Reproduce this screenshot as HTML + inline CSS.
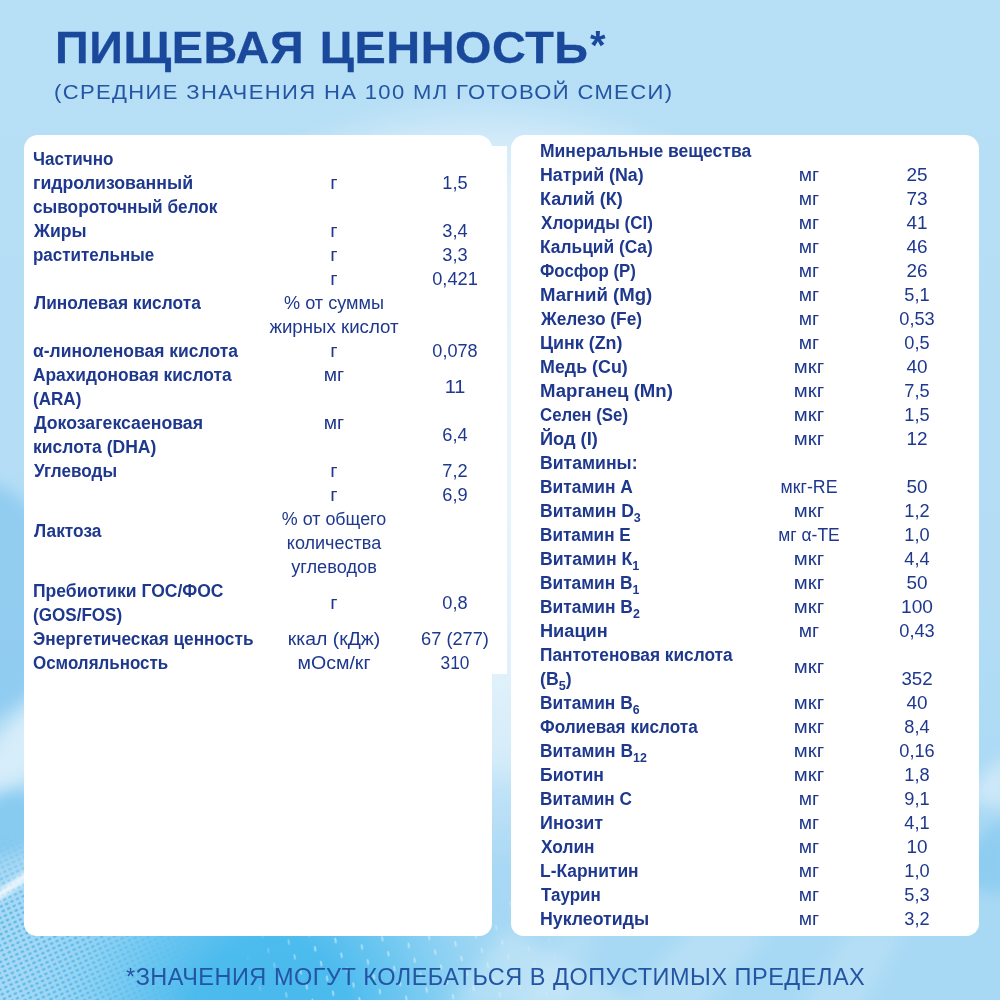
<!DOCTYPE html>
<html lang="ru"><head><meta charset="utf-8"><title>Пищевая ценность</title>
<style>
html,body{margin:0;padding:0}
body{width:1000px;height:1000px;position:relative;overflow:hidden;background:#b7dff6;font-family:"Liberation Sans",sans-serif;color:#1e388e}
#bg{position:absolute;left:0;top:0;width:1000px;height:1000px}
.panel{position:absolute;background:#fff;border-radius:14px 14px 12.5px 12.5px}
#pl{left:24.4px;top:134.8px;width:467.8px;height:801.4px}
#pr{left:511.1px;top:134.8px;width:467.7px;height:801.4px}
#strip{position:absolute;left:480px;top:146px;width:26.9px;height:527.9px;background:#fff}
.t{position:absolute;white-space:nowrap;font-size:17.5px;line-height:24px;height:24px}
.b{font-weight:bold;transform-origin:0 50%}
.c{transform-origin:50% 50%;transform:translateX(-50%) scaleX(1.0400)}
sub{font-size:12.5px;vertical-align:baseline;position:relative;top:5px;line-height:0}
#h1{-webkit-text-stroke:0.3px #1a499c;position:absolute;left:54.6px;top:23.4px;font-size:44.5px;line-height:50px;font-weight:bold;color:#1a499c;white-space:nowrap;transform-origin:0 50%;letter-spacing:0.5px;word-spacing:2px}
#ast{position:absolute;left:590px;top:20px;font-size:40px;line-height:50px;font-weight:bold;color:#1a499c}
#h2{position:absolute;left:54.4px;top:80px;font-size:19.5px;line-height:24px;color:#2455a4;white-space:nowrap;transform-origin:0 50%;letter-spacing:1.2px}
#ft{position:absolute;left:125.5px;top:962px;font-size:23.25px;line-height:30px;color:#2455a4;white-space:nowrap;transform-origin:0 50%;letter-spacing:0.5px}

</style></head>
<body>
<svg id="bg" width="1000" height="1000" viewBox="0 0 1000 1000">
<defs>
<linearGradient id="gv" x1="0" y1="0" x2="0" y2="1">
<stop offset="0" stop-color="#b7dff6"/><stop offset="0.6" stop-color="#b4ddf5"/><stop offset="0.85" stop-color="#a8d8f4"/><stop offset="1" stop-color="#a8d9f4"/>
</linearGradient>
<radialGradient id="gglow" cx="0.5" cy="0.5" r="0.5">
<stop offset="0" stop-color="#fff" stop-opacity="0.7"/><stop offset="0.7" stop-color="#fff" stop-opacity="0.6"/><stop offset="0.85" stop-color="#fff" stop-opacity="0.4"/><stop offset="0.95" stop-color="#fff" stop-opacity="0.12"/><stop offset="1" stop-color="#fff" stop-opacity="0"/>
</radialGradient>
<radialGradient id="gbl" cx="0.5" cy="0.5" r="0.5">
<stop offset="0" stop-color="#48b9ed" stop-opacity="1"/><stop offset="0.3" stop-color="#4cbbee" stop-opacity="1"/><stop offset="0.5" stop-color="#58c0ef" stop-opacity="0.75"/><stop offset="0.75" stop-color="#6ac8f1" stop-opacity="0.3"/><stop offset="1" stop-color="#84d1f3" stop-opacity="0"/>
</radialGradient>
<filter id="bl8" x="-30%" y="-30%" width="160%" height="160%"><feGaussianBlur stdDeviation="8"/></filter>
<filter id="bl3" x="-20%" y="-20%" width="140%" height="140%"><feGaussianBlur stdDeviation="2.5"/></filter>
<pattern id="dots" width="22" height="16" patternUnits="userSpaceOnUse" patternTransform="rotate(-22)">
<rect x="3" y="3" width="2" height="5.5" rx="1" fill="#fff" fill-opacity="0.5" transform="skewX(-12)"/>
</pattern>
<pattern id="ddots" width="6" height="5" patternUnits="userSpaceOnUse" patternTransform="rotate(-25)">
<ellipse cx="2" cy="2" rx="1.9" ry="1.2" fill="#4bb4e9" fill-opacity="0.85"/>
</pattern>
<linearGradient id="gdots" x1="0" y1="0" x2="1" y2="0">
<stop offset="0.24" stop-color="#fff" stop-opacity="0"/><stop offset="0.31" stop-color="#fff" stop-opacity="1"/><stop offset="0.46" stop-color="#fff" stop-opacity="0.8"/><stop offset="0.58" stop-color="#fff" stop-opacity="0"/>
</linearGradient>
<linearGradient id="gddots" x1="0" y1="0" x2="1" y2="0">
<stop offset="0" stop-color="#fff" stop-opacity="1"/><stop offset="0.08" stop-color="#fff" stop-opacity="0.9"/><stop offset="0.2" stop-color="#fff" stop-opacity="0"/>
</linearGradient>
<linearGradient id="gfade" x1="0" y1="0" x2="0" y2="1">
<stop offset="0" stop-color="#000"/><stop offset="0.35" stop-color="#fff"/>
</linearGradient>
<linearGradient id="gvf" x1="0" y1="0" x2="0" y2="1"><stop offset="0.25" stop-color="#000"/><stop offset="0.6" stop-color="#fff"/></linearGradient>
<mask id="mv"><rect x="0" y="780" width="1000" height="220" fill="url(#gvf)"/></mask>
<linearGradient id="gstrip" x1="0" y1="0" x2="0" y2="1"><stop offset="0" stop-color="#fff" stop-opacity="0"/><stop offset="0.4" stop-color="#fff" stop-opacity="0.34"/><stop offset="1" stop-color="#fff" stop-opacity="0"/></linearGradient>
<mask id="mdots"><rect x="0" y="900" width="1000" height="100" fill="url(#gdots)"/></mask>
<mask id="mddots"><rect x="0" y="780" width="1000" height="220" fill="url(#gddots)"/></mask>
</defs>
<rect width="1000" height="1000" fill="url(#gv)"/>
<ellipse cx="485" cy="440" rx="400" ry="350" fill="url(#gglow)"/>
<rect x="486" y="690" width="30" height="180" fill="url(#gstrip)"/>
<ellipse cx="270" cy="1030" rx="270" ry="300" fill="url(#gbl)"/>
<ellipse cx="-30" cy="600" rx="95" ry="120" fill="#74c0ed" fill-opacity="0.55" filter="url(#bl8)"/>
<ellipse cx="-15" cy="822" rx="60" ry="38" fill="#6cc0ed" fill-opacity="0.55" filter="url(#bl8)"/>
<rect x="0" y="900" width="1000" height="100" fill="url(#dots)" mask="url(#mdots)"/>
<g mask="url(#mv)"><rect x="0" y="780" width="1000" height="220" fill="url(#ddots)" mask="url(#mddots)"/></g>
<g filter="url(#bl3)" fill="#fff">
<path d="M-10 897 C10 882 25 870 60 854 L60 864 C30 878 12 890 -10 907Z" fill-opacity="0.8"/>
</g>
<g filter="url(#bl8)">
<path d="M-20 760 C0 735 15 715 45 695 L45 770 C25 780 8 790 -20 805Z" fill="#fff" fill-opacity="0.5"/>
<path d="M450 1010 C475 965 490 948 508 930 C540 950 590 968 640 1010Z" fill="#fff" fill-opacity="0.22"/>
<path d="M690 930 L770 930 L700 1010 L620 1010Z" fill="#fff" fill-opacity="0.16"/>
<path d="M850 930 L905 930 L860 1010 L800 1010Z" fill="#fff" fill-opacity="0.14"/>
<path d="M560 930 L600 930 L560 1010 L520 1010Z" fill="#fff" fill-opacity="0.1"/>
<path d="M1010 815 C985 828 965 850 945 885 L1010 895Z" fill="#6fbfec" fill-opacity="0.45"/>
<path d="M1010 755 C990 765 978 778 968 800 L1010 810Z" fill="#fff" fill-opacity="0.4"/>
</g>
</svg>
<div class="panel" id="pl"></div><div id="strip"></div><div class="panel" id="pr"></div>
<div id="ll0" class="t b" style="left:33.00px;top:147.30px;transform:scaleX(0.9759)">Частично</div>
<div id="ll1" class="t b" style="left:33.00px;top:171.30px;transform:scaleX(1.0126)">гидролизованный</div>
<div id="ll2" class="t b" style="left:33.00px;top:195.30px;transform:scaleX(0.9833)">сывороточный белок</div>
<div id="ll3" class="t b" style="left:34.00px;top:219.30px;transform:scaleX(1.0065)">Жиры</div>
<div id="ll4" class="t b" style="left:33.00px;top:243.30px;transform:scaleX(0.9695)">растительные</div>
<div id="ll5" class="t b" style="left:34.00px;top:291.30px;transform:scaleX(0.9899)">Линолевая кислота</div>
<div id="ll6" class="t b" style="left:33.00px;top:339.30px;transform:scaleX(0.9989)">α-линоленовая кислота</div>
<div id="ll7" class="t b" style="left:33.00px;top:363.30px;transform:scaleX(0.9894)">Арахидоновая кислота</div>
<div id="ll8" class="t b" style="left:33.00px;top:387.30px;transform:scaleX(0.9756)">(ARA)</div>
<div id="ll9" class="t b" style="left:34.00px;top:411.30px;transform:scaleX(1.0103)">Докозагексаеновая</div>
<div id="ll10" class="t b" style="left:33.00px;top:435.30px;transform:scaleX(1.0012)">кислота (DHA)</div>
<div id="ll11" class="t b" style="left:34.00px;top:459.30px;transform:scaleX(0.9798)">Углеводы</div>
<div id="ll12" class="t b" style="left:34.00px;top:519.30px;transform:scaleX(0.9888)">Лактоза</div>
<div id="ll13" class="t b" style="left:33.00px;top:579.30px;transform:scaleX(1.0012)">Пребиотики ГОС/ФОС</div>
<div id="ll14" class="t b" style="left:33.00px;top:603.30px;transform:scaleX(0.9757)">(GOS/FOS)</div>
<div id="ll15" class="t b" style="left:33.00px;top:627.30px;transform:scaleX(0.9858)">Энергетическая ценность</div>
<div id="ll16" class="t b" style="left:33.00px;top:651.30px;transform:scaleX(0.9689)">Осмоляльность</div>
<div id="lu0" class="t c" style="left:334.00px;top:171.30px;transform:translateX(-50%) scaleX(1.1400)">г</div>
<div id="lu1" class="t c" style="left:334.00px;top:219.30px;transform:translateX(-50%) scaleX(1.1400)">г</div>
<div id="lu2" class="t c" style="left:334.00px;top:243.30px;transform:translateX(-50%) scaleX(1.1400)">г</div>
<div id="lu3" class="t c" style="left:334.00px;top:267.30px;transform:translateX(-50%) scaleX(1.1400)">г</div>
<div id="lu4" class="t c" style="left:334.00px;top:291.30px;transform:translateX(-50%) scaleX(1.0347)">% от суммы</div>
<div id="lu5" class="t c" style="left:334.00px;top:315.30px;transform:translateX(-50%) scaleX(1.0670)">жирных кислот</div>
<div id="lu6" class="t c" style="left:334.00px;top:339.30px;transform:translateX(-50%) scaleX(1.1400)">г</div>
<div id="lu7" class="t c" style="left:334.00px;top:363.30px;transform:translateX(-50%) scaleX(1.1063)">мг</div>
<div id="lu8" class="t c" style="left:334.00px;top:411.30px;transform:translateX(-50%) scaleX(1.1063)">мг</div>
<div id="lu9" class="t c" style="left:334.00px;top:459.30px;transform:translateX(-50%) scaleX(1.1400)">г</div>
<div id="lu10" class="t c" style="left:334.00px;top:483.30px;transform:translateX(-50%) scaleX(1.1400)">г</div>
<div id="lu11" class="t c" style="left:334.00px;top:507.30px;transform:translateX(-50%) scaleX(1.0226)">% от общего</div>
<div id="lu12" class="t c" style="left:334.00px;top:531.30px;transform:translateX(-50%) scaleX(1.0290)">количества</div>
<div id="lu13" class="t c" style="left:334.00px;top:555.30px;transform:translateX(-50%) scaleX(1.0400)">углеводов</div>
<div id="lu14" class="t c" style="left:334.00px;top:591.30px;transform:translateX(-50%) scaleX(1.1400)">г</div>
<div id="lu15" class="t c" style="left:334.00px;top:627.30px;transform:translateX(-50%) scaleX(1.1089)">ккал (кДж)</div>
<div id="lu16" class="t c" style="left:334.00px;top:651.30px;transform:translateX(-50%) scaleX(1.1185)">мОсм/кг</div>
<div id="lv0" class="t c" style="left:455.20px;top:171.30px;transform:translateX(-50%) scaleX(1.0401)">1,5</div>
<div id="lv1" class="t c" style="left:455.20px;top:219.30px">3,4</div>
<div id="lv2" class="t c" style="left:455.20px;top:243.30px">3,3</div>
<div id="lv3" class="t c" style="left:455.20px;top:267.30px;transform:translateX(-50%) scaleX(1.0400)">0,421</div>
<div id="lv4" class="t c" style="left:455.20px;top:339.30px;transform:translateX(-50%) scaleX(1.0341)">0,078</div>
<div id="lv5" class="t c" style="left:455.20px;top:375.30px;transform:translateX(-50%) scaleX(1.1400)">11</div>
<div id="lv6" class="t c" style="left:455.20px;top:423.30px">6,4</div>
<div id="lv7" class="t c" style="left:455.20px;top:459.30px">7,2</div>
<div id="lv8" class="t c" style="left:455.20px;top:483.30px">6,9</div>
<div id="lv9" class="t c" style="left:455.20px;top:591.30px">0,8</div>
<div id="lv10" class="t c" style="left:455.20px;top:627.30px;transform:translateX(-50%) scaleX(1.0416)">67 (277)</div>
<div id="lv11" class="t c" style="left:455.20px;top:651.30px;transform:translateX(-50%) scaleX(0.9862)">310</div>
<div id="rl0" class="t b" style="left:540.00px;top:139.30px;transform:scaleX(1.0002)">Минеральные вещества</div>
<div id="rl1" class="t b" style="left:540.00px;top:163.30px;transform:scaleX(1.0157)">Натрий (Na)</div>
<div id="rl2" class="t b" style="left:540.00px;top:187.30px;transform:scaleX(1.0289)">Калий (К)</div>
<div id="rl3" class="t b" style="left:541.00px;top:211.30px;transform:scaleX(0.9756)">Хлориды (Cl)</div>
<div id="rl4" class="t b" style="left:540.00px;top:235.30px;transform:scaleX(0.9924)">Кальций (Ca)</div>
<div id="rl5" class="t b" style="left:540.00px;top:259.30px;transform:scaleX(0.9616)">Фосфор (P)</div>
<div id="rl6" class="t b" style="left:540.00px;top:283.30px;transform:scaleX(1.0622)">Магний (Mg)</div>
<div id="rl7" class="t b" style="left:541.00px;top:307.30px;transform:scaleX(0.9899)">Железо (Fe)</div>
<div id="rl8" class="t b" style="left:540.00px;top:331.30px;transform:scaleX(1.0209)">Цинк (Zn)</div>
<div id="rl9" class="t b" style="left:540.00px;top:355.30px;transform:scaleX(1.0206)">Медь (Cu)</div>
<div id="rl10" class="t b" style="left:540.00px;top:379.30px;transform:scaleX(1.0626)">Марганец (Mn)</div>
<div id="rl11" class="t b" style="left:540.00px;top:403.30px;transform:scaleX(0.9619)">Селен (Se)</div>
<div id="rl12" class="t b" style="left:540.00px;top:427.30px;transform:scaleX(1.0411)">Йод (I)</div>
<div id="rl13" class="t b" style="left:540.00px;top:451.30px;transform:scaleX(1.0078)">Витамины:</div>
<div id="rl14" class="t b" style="left:540.00px;top:475.30px;transform:scaleX(0.9936)">Витамин А</div>
<div id="rl15" class="t b" style="left:540.00px;top:499.30px;transform:scaleX(1.0040)">Витамин D<sub>3</sub></div>
<div id="rl16" class="t b" style="left:540.00px;top:523.30px;transform:scaleX(0.9806)">Витамин Е</div>
<div id="rl17" class="t b" style="left:540.00px;top:547.30px;transform:scaleX(1.0077)">Витамин К<sub>1</sub></div>
<div id="rl18" class="t b" style="left:540.00px;top:571.30px;transform:scaleX(0.9890)">Витамин B<sub>1</sub></div>
<div id="rl19" class="t b" style="left:540.00px;top:595.30px;transform:scaleX(0.9940)">Витамин B<sub>2</sub></div>
<div id="rl20" class="t b" style="left:540.00px;top:619.30px;transform:scaleX(1.0383)">Ниацин</div>
<div id="rl21" class="t b" style="left:540.00px;top:643.30px;transform:scaleX(0.9873)">Пантотеновая кислота</div>
<div id="rl22" class="t b" style="left:540.00px;top:667.30px;transform:scaleX(1.0089)">(B<sub>5</sub>)</div>
<div id="rl23" class="t b" style="left:540.00px;top:691.30px;transform:scaleX(0.9914)">Витамин B<sub>6</sub></div>
<div id="rl24" class="t b" style="left:540.00px;top:715.30px;transform:scaleX(0.9811)">Фолиевая кислота</div>
<div id="rl25" class="t b" style="left:540.00px;top:739.30px;transform:scaleX(0.9945)">Витамин B<sub>12</sub></div>
<div id="rl26" class="t b" style="left:540.00px;top:763.30px;transform:scaleX(1.0054)">Биотин</div>
<div id="rl27" class="t b" style="left:540.00px;top:787.30px;transform:scaleX(0.9833)">Витамин С</div>
<div id="rl28" class="t b" style="left:540.00px;top:811.30px;transform:scaleX(1.0238)">Инозит</div>
<div id="rl29" class="t b" style="left:541.00px;top:835.30px;transform:scaleX(0.9889)">Холин</div>
<div id="rl30" class="t b" style="left:540.00px;top:859.30px;transform:scaleX(0.9955)">L-Карнитин</div>
<div id="rl31" class="t b" style="left:541.00px;top:883.30px;transform:scaleX(0.9727)">Таурин</div>
<div id="rl32" class="t b" style="left:540.00px;top:907.30px;transform:scaleX(1.0136)">Нуклеотиды</div>
<div id="ru0" class="t c" style="left:808.80px;top:163.30px;transform:translateX(-50%) scaleX(1.1063)">мг</div>
<div id="ru1" class="t c" style="left:808.80px;top:187.30px;transform:translateX(-50%) scaleX(1.1063)">мг</div>
<div id="ru2" class="t c" style="left:808.80px;top:211.30px;transform:translateX(-50%) scaleX(1.1063)">мг</div>
<div id="ru3" class="t c" style="left:808.80px;top:235.30px;transform:translateX(-50%) scaleX(1.1063)">мг</div>
<div id="ru4" class="t c" style="left:808.80px;top:259.30px;transform:translateX(-50%) scaleX(1.1063)">мг</div>
<div id="ru5" class="t c" style="left:808.80px;top:283.30px;transform:translateX(-50%) scaleX(1.1063)">мг</div>
<div id="ru6" class="t c" style="left:808.80px;top:307.30px;transform:translateX(-50%) scaleX(1.1063)">мг</div>
<div id="ru7" class="t c" style="left:808.80px;top:331.30px;transform:translateX(-50%) scaleX(1.1063)">мг</div>
<div id="ru8" class="t c" style="left:808.80px;top:355.30px;transform:translateX(-50%) scaleX(1.1600)">мкг</div>
<div id="ru9" class="t c" style="left:808.80px;top:379.30px;transform:translateX(-50%) scaleX(1.1600)">мкг</div>
<div id="ru10" class="t c" style="left:808.80px;top:403.30px;transform:translateX(-50%) scaleX(1.1600)">мкг</div>
<div id="ru11" class="t c" style="left:808.80px;top:427.30px;transform:translateX(-50%) scaleX(1.1600)">мкг</div>
<div id="ru12" class="t c" style="left:808.80px;top:475.30px;transform:translateX(-50%) scaleX(1.0124)">мкг-RE</div>
<div id="ru13" class="t c" style="left:808.80px;top:499.30px;transform:translateX(-50%) scaleX(1.1600)">мкг</div>
<div id="ru14" class="t c" style="left:808.80px;top:523.30px;transform:translateX(-50%) scaleX(0.9981)">мг α-ТЕ</div>
<div id="ru15" class="t c" style="left:808.80px;top:547.30px;transform:translateX(-50%) scaleX(1.1600)">мкг</div>
<div id="ru16" class="t c" style="left:808.80px;top:571.30px;transform:translateX(-50%) scaleX(1.1600)">мкг</div>
<div id="ru17" class="t c" style="left:808.80px;top:595.30px;transform:translateX(-50%) scaleX(1.1600)">мкг</div>
<div id="ru18" class="t c" style="left:808.80px;top:619.30px;transform:translateX(-50%) scaleX(1.1063)">мг</div>
<div id="ru19" class="t c" style="left:808.80px;top:655.30px;transform:translateX(-50%) scaleX(1.1600)">мкг</div>
<div id="ru20" class="t c" style="left:808.80px;top:691.30px;transform:translateX(-50%) scaleX(1.1600)">мкг</div>
<div id="ru21" class="t c" style="left:808.80px;top:715.30px;transform:translateX(-50%) scaleX(1.1600)">мкг</div>
<div id="ru22" class="t c" style="left:808.80px;top:739.30px;transform:translateX(-50%) scaleX(1.1600)">мкг</div>
<div id="ru23" class="t c" style="left:808.80px;top:763.30px;transform:translateX(-50%) scaleX(1.1600)">мкг</div>
<div id="ru24" class="t c" style="left:808.80px;top:787.30px;transform:translateX(-50%) scaleX(1.1063)">мг</div>
<div id="ru25" class="t c" style="left:808.80px;top:811.30px;transform:translateX(-50%) scaleX(1.1063)">мг</div>
<div id="ru26" class="t c" style="left:808.80px;top:835.30px;transform:translateX(-50%) scaleX(1.1063)">мг</div>
<div id="ru27" class="t c" style="left:808.80px;top:859.30px;transform:translateX(-50%) scaleX(1.1063)">мг</div>
<div id="ru28" class="t c" style="left:808.80px;top:883.30px;transform:translateX(-50%) scaleX(1.1063)">мг</div>
<div id="ru29" class="t c" style="left:808.80px;top:907.30px;transform:translateX(-50%) scaleX(1.1063)">мг</div>
<div id="rv0" class="t c" style="left:917.40px;top:163.30px;transform:translateX(-50%) scaleX(1.0822)">25</div>
<div id="rv1" class="t c" style="left:917.40px;top:187.30px;transform:translateX(-50%) scaleX(1.0820)">73</div>
<div id="rv2" class="t c" style="left:917.40px;top:211.30px;transform:translateX(-50%) scaleX(1.0820)">41</div>
<div id="rv3" class="t c" style="left:917.40px;top:235.30px;transform:translateX(-50%) scaleX(1.0820)">46</div>
<div id="rv4" class="t c" style="left:917.40px;top:259.30px;transform:translateX(-50%) scaleX(1.0820)">26</div>
<div id="rv5" class="t c" style="left:917.40px;top:283.30px">5,1</div>
<div id="rv6" class="t c" style="left:917.40px;top:307.30px;transform:translateX(-50%) scaleX(1.0401)">0,53</div>
<div id="rv7" class="t c" style="left:917.40px;top:331.30px">0,5</div>
<div id="rv8" class="t c" style="left:917.40px;top:355.30px;transform:translateX(-50%) scaleX(1.0820)">40</div>
<div id="rv9" class="t c" style="left:917.40px;top:379.30px">7,5</div>
<div id="rv10" class="t c" style="left:917.40px;top:403.30px;transform:translateX(-50%) scaleX(1.0401)">1,5</div>
<div id="rv11" class="t c" style="left:917.40px;top:427.30px;transform:translateX(-50%) scaleX(1.0820)">12</div>
<div id="rv12" class="t c" style="left:917.40px;top:475.30px;transform:translateX(-50%) scaleX(1.0820)">50</div>
<div id="rv13" class="t c" style="left:917.40px;top:499.30px">1,2</div>
<div id="rv14" class="t c" style="left:917.40px;top:523.30px">1,0</div>
<div id="rv15" class="t c" style="left:917.40px;top:547.30px">4,4</div>
<div id="rv16" class="t c" style="left:917.40px;top:571.30px;transform:translateX(-50%) scaleX(1.0820)">50</div>
<div id="rv17" class="t c" style="left:917.40px;top:595.30px;transform:translateX(-50%) scaleX(1.0952)">100</div>
<div id="rv18" class="t c" style="left:917.40px;top:619.30px">0,43</div>
<div id="rv19" class="t c" style="left:917.40px;top:667.30px;transform:translateX(-50%) scaleX(1.0690)">352</div>
<div id="rv20" class="t c" style="left:917.40px;top:691.30px;transform:translateX(-50%) scaleX(1.0820)">40</div>
<div id="rv21" class="t c" style="left:917.40px;top:715.30px">8,4</div>
<div id="rv22" class="t c" style="left:917.40px;top:739.30px">0,16</div>
<div id="rv23" class="t c" style="left:917.40px;top:763.30px">1,8</div>
<div id="rv24" class="t c" style="left:917.40px;top:787.30px">9,1</div>
<div id="rv25" class="t c" style="left:917.40px;top:811.30px">4,1</div>
<div id="rv26" class="t c" style="left:917.40px;top:835.30px;transform:translateX(-50%) scaleX(1.0820)">10</div>
<div id="rv27" class="t c" style="left:917.40px;top:859.30px">1,0</div>
<div id="rv28" class="t c" style="left:917.40px;top:883.30px">5,3</div>
<div id="rv29" class="t c" style="left:917.40px;top:907.30px">3,2</div>
<div id="h1" style="transform:scaleX(1.0531)">ПИЩЕВАЯ ЦЕННОСТЬ</div><div id="ast">*</div>
<div id="h2" style="transform:scaleX(1.13)">(СРЕДНИЕ ЗНАЧЕНИЯ НА 100 МЛ ГОТОВОЙ СМЕСИ)</div>
<div id="ft" style="transform:scaleX(1.0106)">*ЗНАЧЕНИЯ МОГУТ КОЛЕБАТЬСЯ В ДОПУСТИМЫХ ПРЕДЕЛАХ</div>
</body></html>
